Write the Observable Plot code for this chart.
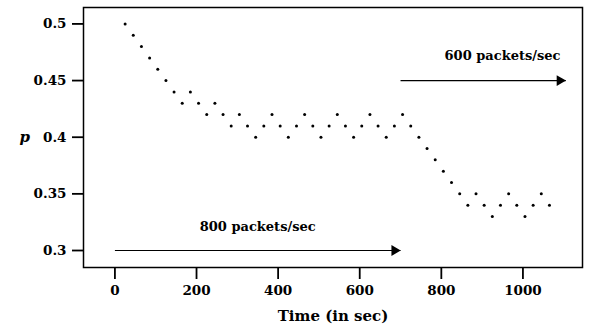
<!DOCTYPE html>
<html>
<head>
<meta charset="utf-8">
<script src="https://cdn.jsdelivr.net/npm/d3@7"></script>
<script src="https://cdn.jsdelivr.net/npm/@observablehq/plot@0.6"></script>
<style>
  html, body { margin: 0; padding: 0; background: #fff; }
  #chart svg { display: block; }
</style>
</head>
<body>
<div id="chart"></div>
<script>
const times = [25,45,65,85,105,125,145,165,185,205,225,245,265,285,305,325,345,365,385,405,425,445,465,485,505,525,545,565,585,605,625,645,665,685,705,725,745,765,785,805,825,845,865,885,905,925,945,965,985,1005,1025,1045,1065];
const pValues = [0.50,0.49,0.48,0.47,0.46,0.45,0.44,0.43,0.44,0.43,0.42,0.43,0.42,0.41,0.42,0.41,0.40,
  0.41,0.42,0.41,0.40,0.41,0.42,0.41,0.40,0.41,0.42,0.41,0.40,0.41,0.42,0.41,0.40,0.41,0.42,0.41,0.40,
  0.39,0.38,0.37,0.36,0.35,0.34,0.35,0.34,0.33,0.34,0.35,0.34,0.33,0.34,0.35,0.34];

const xTicks = [0,200,400,600,800,1000];
const xTickLabels = ["0","200","400","600","800","1000"];
const yTicks = [0.3,0.35,0.4,0.45,0.5];
const yTickLabels = ["0.3","0.35","0.4","0.45","0.5"];

const rateLabels = ["800 packets/sec","600 packets/sec"];
const arrowStart = [0,700];
const arrowEnd = [700,1105];
const arrowP = [0.30,0.45];
const labelT = [350,950];
const labelP = [0.321,0.472];

const points = times.map((t,i) => ({t, p: pValues[i]}));
const arrows = rateLabels.map((label,i) => ({label, x1: arrowStart[i], x2: arrowEnd[i], y: arrowP[i], lt: labelT[i], lp: labelP[i]}));

const chart = Plot.plot({
  width: 589,
  height: 332,
  marginLeft: 83,
  marginRight: 7,
  marginTop: 7,
  marginBottom: 65,
  style: {fontFamily: "'DejaVu Serif', serif", fontWeight: "bold", fontSize: "13.5px", color: "#000", background: "#fff"},
  x: {domain: [-77, 1146]},
  y: {domain: [0.285, 0.5145]},
  marks: [
    Plot.frame({stroke: "#000", strokeWidth: 1.5}),
    Plot.axisX({ticks: xTicks, tickSize: 12, tickPadding: 6, strokeWidth: 1.8, label: null, fontSize: 13.5,
      tickFormat: (d) => xTickLabels[xTicks.indexOf(d)]}),
    Plot.axisY({ticks: yTicks, tickSize: 11, tickPadding: 6, strokeWidth: 1.8, label: null, fontSize: 13.5,
      tickFormat: (d) => yTickLabels[yTicks.indexOf(d)]}),
    Plot.dot(points, {x: "t", y: "p", r: 1.5, fill: "#000", stroke: "none"}),
    Plot.link(arrows, {x1: "x1", x2: "x2", y1: "y", y2: "y", stroke: "#000", strokeWidth: 1.2}),
    Plot.dot(arrows, {x: "x2", y: "y", symbol: "triangle", rotate: 90, r: 4, fill: "#000", stroke: "none", dx: -6}),
    Plot.text(arrows, {x: "lt", y: "lp", text: "label", fontSize: 13, fontWeight: "bold", fill: "#000"}),
    Plot.text(["Time (in sec)"], {frameAnchor: "bottom", dy: 53, text: d => d, fontSize: 15, fontWeight: "bold", fill: "#000"}),
    Plot.text(["p"], {frameAnchor: "left", dx: -64, text: d => d, fontSize: 15, fontWeight: "bold", fontStyle: "italic", fill: "#000"})
  ]
});
document.getElementById("chart").appendChild(chart);
</script>
</body>
</html>
